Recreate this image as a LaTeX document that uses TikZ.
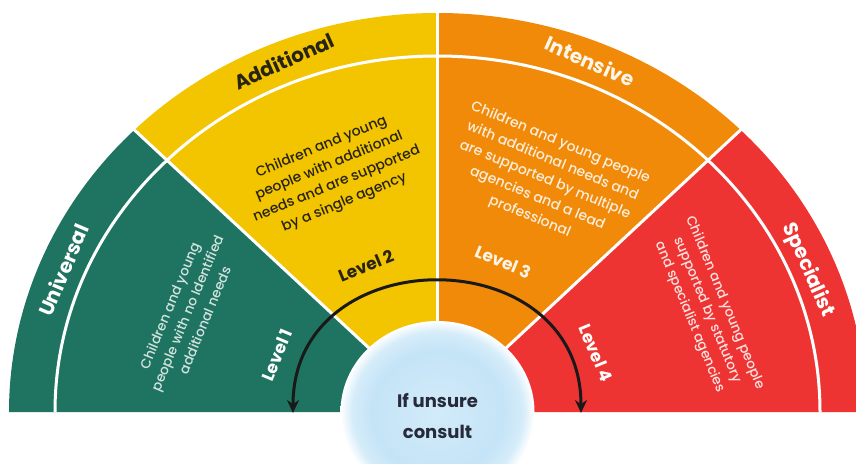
\documentclass[tikz,border=0pt]{standalone}
\usepackage{fontspec}
\setmainfont{Poppins}
\newfontfamily\medfont{Poppins Medium}
\usepackage{tikz}
\usetikzlibrary{arrows.meta}
\definecolor{ugreen}{RGB}{31,116,97}
\definecolor{ayellow}{RGB}{243,196,0}
\definecolor{iorange}{RGB}{240,138,8}
\definecolor{sred}{RGB}{238,52,50}
\definecolor{hubblue}{RGB}{196,228,247}
\definecolor{ink}{RGB}{40,36,20}
\definecolor{navy}{RGB}{38,42,58}
\pgfdeclareradialshading{glow}{\pgfpoint{0bp}{0bp}}{color(0bp)=(hubblue!75!white); color(17bp)=(hubblue); color(22bp)=(hubblue!70!white); color(25bp)=(white); color(50bp)=(white)}
\tikzset{
	band/.style={font=\bfseries\fontsize{20}{20}\selectfont},
	blurb/.style={align=center,font=\medfont\fontsize{14}{20}\selectfont},
	lvl/.style={font=\bfseries\fontsize{17}{17}\selectfont},
	divider/.style={white,line width=3pt}
}

\begin{document}
\begin{tikzpicture}[x=1pt,y=1pt,>={Stealth[length=13pt,width=12pt]}]
	\useasboundingbox (0,0) rectangle (856,463);
	\begin{scope}[shift={(437.5,51)}]
	  \foreach \a/\c in {135/ugreen,90/ayellow,45/iorange,0/sred}
	    \fill[\c] (\a:93 and 87) arc[start angle=\a,delta angle=45,x radius=93,y radius=87]
	      -- ({\a+45}:428.5 and 399) arc[start angle=\a+45,delta angle=-45,x radius=428.5,y radius=399] -- cycle;
	  \draw[divider] (0:382.5 and 356) arc[start angle=0,end angle=180,x radius=382.5,y radius=356];
	  \foreach \a in {45,90,135}
	    \draw[divider] (\a:90 and 84) -- (\a:432 and 402);
	  \shade[shading=glow] (0,0) ellipse[x radius=97,y radius=91];
	\end{scope}
	\node [band,white,rotate=67] (u) at (63,193) {Universal};
	\node [band,ink,rotate=24] (ad) at (284,402) {Additional};
	\node [band,white!92!iorange,rotate=-24] (in) at (590,402) {Intensive};
	\node [band,white,rotate=-66] (sp) at (808,193) {Specialist};
	\node [blurb,text=white!80!ugreen,font=\medfont\fontsize{13.5}{19}\selectfont,rotate=67.5] (t1) at (187,150) {Children and young\\people with no Identified\\additional needs};
	\node [blurb,text=ink,rotate=22.5] (t2) at (333,288) {Children and young\\people with additional\\needs and are supported\\by a single agency};
	\node [blurb,text=white!85!iorange,rotate=-22.5] (t3) at (545,283) {Children and young people\\with additional needs and\\are supported by multiple\\agencies and a lead\\professional};
	\node [blurb,text=white!85!sred,font=\medfont\fontsize{13.5}{19}\selectfont,rotate=-67.5] (t4) at (707,153) {Children and young people\\supported by statutory\\and specialist agencies};
	\node [lvl,white,rotate=67.5] (l1) at (277,108) {Level 1};
	\node [lvl,ink,rotate=22.5] (l2) at (366,197) {Level 2};
	\node [lvl,white!90!iorange,rotate=-22.5] (l3) at (503,201) {Level 3};
	\node [lvl,white,rotate=-67.5] (l4) at (596,110) {Level 4};
	\node [font=\bfseries\fontsize{18}{31}\selectfont,navy,align=center] (q) at (437.5,47) {If unsure\\consult};
	\coordinate (a1) at (293,50);
	\coordinate (a2) at (581,50);
	\draw [<->,line width=3pt,black!90] (a1) .. controls +(0,175) and +(0,175) .. (a2);
\end{tikzpicture}
\end{document}
